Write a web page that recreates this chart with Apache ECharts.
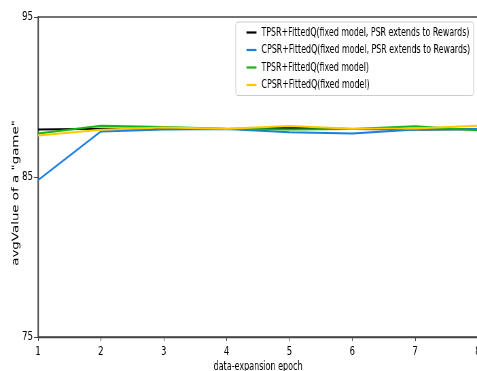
<!DOCTYPE html>
<html>
<head>
<meta charset="utf-8">
<script src="https://cdn.jsdelivr.net/npm/echarts@6/dist/echarts.min.js"></script>
<style>
html,body{margin:0;padding:0;overflow:hidden;background:#fff;width:477px;height:371px;}
#c{width:702px;height:371px;transform:scaleX(0.6795);transform-origin:0 0;}
</style>
</head>
<body>
<div id="c"></div>
<script>
// Data
const epochs = [1, 2, 3, 4, 5, 6, 7, 8];
const seriesNames = [
  'TPSR+FittedQ(fixed model, PSR extends to Rewards)',
  'CPSR+FittedQ(fixed model, PSR extends to Rewards)',
  'TPSR+FittedQ(fixed model)',
  'CPSR+FittedQ(fixed model)'
];
const tpsrRewards = [87.97, 88.02, 88.02, 88.0, 88.08, 88.0, 87.97, 87.98];
const cpsrRewards = [84.8, 87.85, 87.97, 88.0, 87.8, 87.72, 87.97, 88.0];
const tpsrFixed   = [87.72, 88.2, 88.12, 88.02, 87.97, 88.0, 88.17, 87.92];
const cpsrFixed   = [87.6, 87.95, 88.1, 88.02, 88.18, 88.02, 88.03, 88.2];
const yTicks = [75, 85, 95];
const xTitle = 'data-expansion epoch';
const yTitle = 'avgValue of a "game"';

const colors = ['#000000', '#1a7fe0', '#17b417', '#ffc800'];
const allValues = [tpsrRewards, cpsrRewards, tpsrFixed, cpsrFixed];

const chart = echarts.init(document.getElementById('c'), null, {renderer: 'canvas'});
const axisColor = '#444';
const font = 'DejaVu Sans';

chart.setOption({
  animation: false,
  backgroundColor: '#fff',
  grid: {
    left: 56, top: 17, width: 647.5, height: 320,
    outerBoundsMode: 'none', containLabel: false,
    show: true, borderColor: axisColor, borderWidth: 1.4, backgroundColor: 'transparent'
  },
  legend: {
    orient: 'vertical',
    left: 347, top: 22,
    padding: [2, 5, 2, 15.7],
    backgroundColor: 'rgba(255,255,255,0.85)',
    borderColor: '#cccccc', borderWidth: 1, borderRadius: 3,
    icon: 'rect', itemWidth: 14.7, itemHeight: 2.2, itemGap: 0.5,
    textStyle: {fontFamily: font, fontSize: 11.6, color: '#000', lineHeight: 17, padding: [0, 0, 0, 2.4]},
    data: seriesNames
  },
  xAxis: {
    type: 'value', min: 1, max: 8, interval: 1,
    name: xTitle, nameLocation: 'middle', nameGap: 24, nameMoveOverlap: false,
    nameTextStyle: {fontFamily: font, fontSize: 11.8, color: '#000'},
    axisLine: {show: true, lineStyle: {color: axisColor, width: 1.4}},
    axisTick: {show: true, length: 4, lineStyle: {color: axisColor}},
    axisLabel: {fontFamily: font, fontSize: 12.3, color: '#000', margin: 9},
    splitLine: {show: false}
  },
  yAxis: {
    type: 'value', min: 75, max: 95, interval: 10,
    name: yTitle, nameLocation: 'middle', nameGap: 26, nameRotate: 90, nameMoveOverlap: false,
    nameTextStyle: {fontFamily: font, fontSize: 13.4, color: '#000', padding: [0, 32, 0, 0]},
    axisLine: {show: true, lineStyle: {color: axisColor, width: 1.4}},
    axisTick: {show: true, length: 5.9, lineStyle: {color: axisColor}},
    axisLabel: {fontFamily: font, fontSize: 12.6, color: '#000', margin: 7.4,
      formatter: v => yTicks.includes(v) ? String(v) : ''},
    splitLine: {show: false}
  },
  series: seriesNames.map((n, i) => ({
    name: n,
    type: 'line',
    data: epochs.map((e, j) => [e, allValues[i][j]]),
    showSymbol: false,
    symbol: 'none',
    lineStyle: {color: colors[i], width: 2},
    itemStyle: {color: colors[i]},
    z: 2 + i
  }))
});
</script>
</body>
</html>
